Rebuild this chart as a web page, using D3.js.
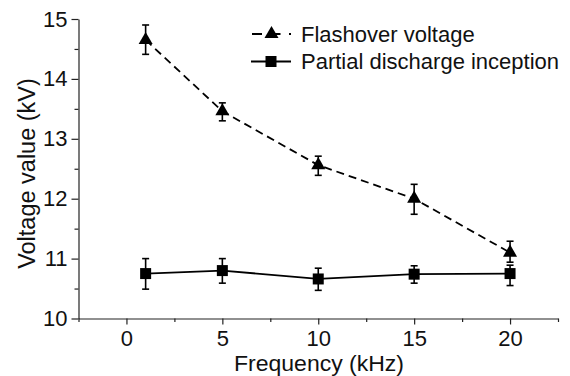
<!DOCTYPE html>
<html>
<head>
<meta charset="utf-8">
<script src="https://cdn.jsdelivr.net/npm/d3@7"></script>
<style>
  html, body { margin: 0; padding: 0; background: #fff; }
  svg { display: block; font-family: "Liberation Sans", Arial, sans-serif; }
</style>
</head>
<body>
<svg id="chart" width="570" height="376"></svg>
<script>
// ---- data ----
const frequency = [1, 5, 10, 15, 20];
const flashover = [14.65, 13.46, 12.56, 12.0, 11.1];
const flashoverHi = [14.9, 13.6, 12.71, 12.24, 11.29];
const flashoverLo = [14.41, 13.3, 12.39, 11.74, 10.94];
const pdInception = [10.75, 10.8, 10.66, 10.74, 10.75];
const pdHi = [11.0, 11.0, 10.84, 10.88, 10.89];
const pdLo = [10.49, 10.59, 10.47, 10.59, 10.55];
const xTicks = [0, 5, 10, 15, 20];
const xMinorTicks = [-2.5, 2.5, 7.5, 12.5, 17.5, 22.5];
const yTicks = [10, 11, 12, 13, 14, 15];
const yMinorTicks = [10.5, 11.5, 12.5, 13.5, 14.5];
const seriesNames = ["Flashover voltage", "Partial discharge inception"];

const svg = d3.select("#chart");
const x = d3.scaleLinear().domain([-2.5, 22.5]).range([78.5, 558]);
const y = d3.scaleLinear().domain([10, 15]).range([318.5, 19]);

// axes
const gx = svg.append("g").attr("transform", `translate(0,${y(10)})`)
  .call(d3.axisBottom(x).tickValues(xTicks).tickSize(6).tickSizeOuter(0).tickFormat(d3.format("d")));
svg.append("g").attr("transform", `translate(0,${y(10)})`)
  .call(d3.axisBottom(x).tickValues(xMinorTicks).tickSize(3.5).tickSizeOuter(0).tickFormat(""))
  .select(".domain").remove();
const gy = svg.append("g").attr("transform", `translate(${x(-2.5)},0)`)
  .call(d3.axisLeft(y).tickValues(yTicks).tickSize(7).tickSizeOuter(0).tickPadding(4).tickFormat(d3.format("d")));
svg.append("g").attr("transform", `translate(${x(-2.5)},0)`)
  .call(d3.axisLeft(y).tickValues(yMinorTicks).tickSize(4).tickSizeOuter(0).tickFormat(""))
  .select(".domain").remove();

svg.selectAll(".domain").attr("stroke", "#222").attr("stroke-width", 1.2);
svg.selectAll(".tick line").attr("stroke", "#222").attr("stroke-width", 1.2);
svg.selectAll(".tick text").attr("font-size", 22).attr("fill", "#111")
  .attr("font-family", "'Liberation Sans', Arial, sans-serif");
gx.selectAll(".tick text").attr("y", 27).attr("dy", 0);

// axis titles
svg.append("text").attr("x", 319).attr("y", 370.5).attr("text-anchor", "middle")
  .attr("font-size", 22).attr("textLength", 170).attr("lengthAdjust", "spacingAndGlyphs")
  .attr("fill", "#111").text("Frequency (kHz)");
svg.append("text").attr("transform", "translate(35,173.5) rotate(-90)")
  .attr("text-anchor", "middle").attr("font-size", 23.5).attr("fill", "#111").text("Voltage value (kV)");

const line = d3.line().x(d => x(d[0])).y(d => y(d[1]));
const fData = frequency.map((f, i) => [f, flashover[i], flashoverLo[i], flashoverHi[i]]);
const pData = frequency.map((f, i) => [f, pdInception[i], pdLo[i], pdHi[i]]);

svg.append("path").datum(fData).attr("d", line).attr("fill", "none")
  .attr("stroke", "#000").attr("stroke-width", 1.8).attr("stroke-dasharray", "8,5");
svg.append("path").datum(pData).attr("d", line).attr("fill", "none")
  .attr("stroke", "#000").attr("stroke-width", 1.8);

function errorBars(data) {
  const g = svg.append("g").attr("stroke", "#000").attr("stroke-width", 1.6);
  data.forEach(d => {
    const cx = x(d[0]);
    g.append("line").attr("x1", cx).attr("x2", cx).attr("y1", y(d[2])).attr("y2", y(d[3]));
    g.append("line").attr("x1", cx - 3.5).attr("x2", cx + 3.5).attr("y1", y(d[2])).attr("y2", y(d[2]));
    g.append("line").attr("x1", cx - 3.5).attr("x2", cx + 3.5).attr("y1", y(d[3])).attr("y2", y(d[3]));
  });
}
errorBars(fData);
errorBars(pData);

const tri = d3.symbol().type(d3.symbolTriangle).size(85);
const sq = d3.symbol().type(d3.symbolSquare).size(121);
svg.append("g").selectAll("path").data(fData).join("path")
  .attr("transform", d => `translate(${x(d[0])},${y(d[1])})`).attr("d", tri).attr("fill", "#000");
svg.append("g").selectAll("path").data(pData).join("path")
  .attr("transform", d => `translate(${x(d[0])},${y(d[1])})`).attr("d", sq).attr("fill", "#000");

// legend
const leg = svg.append("g");
leg.append("line").attr("x1", 252).attr("x2", 291).attr("y1", 34).attr("y2", 34)
  .attr("stroke", "#000").attr("stroke-width", 1.8).attr("stroke-dasharray", "10,8.5");
leg.append("path").attr("transform", "translate(271.5,34)").attr("d", tri).attr("fill", "#000");
leg.append("text").attr("x", 301).attr("y", 41.7).attr("font-size", 22).attr("fill", "#111").text(seriesNames[0]);
leg.append("line").attr("x1", 251).attr("x2", 291).attr("y1", 61.5).attr("y2", 61.5)
  .attr("stroke", "#000").attr("stroke-width", 1.8);
leg.append("path").attr("transform", "translate(271,61.5)").attr("d", sq).attr("fill", "#000");
leg.append("text").attr("x", 301).attr("y", 68.5).attr("font-size", 22).attr("fill", "#111").text(seriesNames[1]);
</script>
</body>
</html>
